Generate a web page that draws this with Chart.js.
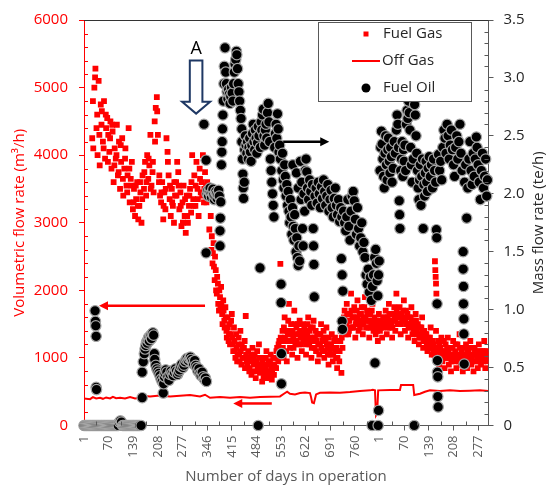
<!DOCTYPE html>
<html lang="en">
<head>
<meta charset="UTF-8">
<title>Fuel gas, off gas and fuel oil flow vs days in operation</title>
<script src="https://cdn.jsdelivr.net/npm/chart.js"></script>
<style>
  body { margin: 0; background: #fff; }
  #chart { display: block; }
</style>
</head>
<body>
<canvas id="chart" width="547" height="486"></canvas>
<script>
// x is a running day index over both campaigns; the second campaign restarts its count at 829
const xTickDays   = [1, 70, 139, 208, 277, 346, 415, 484, 553, 622, 691, 760, 829, 898, 967, 1036, 1105];
const xTickLabels = ['1', '70', '139', '208', '277', '346', '415', '484', '553', '622', '691', '760', '1', '70', '139', '208', '277'];

// Fuel Gas, m3/h (left axis) - [day, value]
const fuelGas = [
  [24,4250],[27,4100],[30,5000],[33,5280],[36,4400],[39,4000],[42,5100],[45,3850],
  [48,4750],[51,4650],[54,4200],[57,4800],[60,3950],[63,4400],[66,4550],[69,4300],[72,4050],
  [75,4500],[78,3800],[81,4350],[84,3600],[87,4100],[90,3950],[93,4450],[96,3700],[99,4200],[102,3500],
  [105,3900],[108,4250],[111,3400],[114,3800],[117,4100],[120,3550],[123,3700],[126,4400],[129,3300],[132,3650],[135,3900],[138,3200],
  [141,3500],[144,3100],[147,3350],[150,3600],[153,3050],[156,3250],[159,3450],[162,3000],[165,3700],
  [169,3500],[172,3900],[175,3400],[178,4000],[181,3650],[184,3850],[187,4300],[190,3550],[193,3750],[196,3450],[199,4500],[202,4700],[205,4860],[208,4300],[211,3600],[214,3400],
  [217,3300],[220,3600],[223,3050],[226,3450],[229,3200],[232,4250],[235,4050],[238,3700],[241,3350],[244,3100],[247,3500],[250,3250],[253,3000],[256,3400],
  [259,3600],[262,3900],[265,3750],[268,3200],[271,3450],[274,2950],[277,3300],[280,3550],[283,3100],[286,2850],[289,3400],[292,3000],[295,3250],[298,3500],[301,3150],[304,4000],[307,3350],
  [310,3700],[313,3250],[316,3900],[319,3500],[322,3100],[325,3800],[328,3450],[331,3600],[334,4000],[337,3300],[340,3750],[343,3550],
  [346,3600],[349,3400],[352,2900],[355,3500],[358,2600],
  [361,2400],[364,2700],[367,2150],[370,2300],[373,1950],
  [376,2100],[379,1700],[382,1900],[385,2050],[388,1650],[391,1850],[394,1550],
  [397,1750],[400,1400],[403,1600],[406,1250],[409,1500],[412,1350],[415,1650],[418,1200],[421,1450],
  [424,1100],[427,1350],[430,950],[433,1200],[436,1050],[439,1400],[442,900],[445,1150],[448,1000],[451,1250],[454,1620],[457,950],
  [461,1100],[464,800],[467,1000],[470,750],[473,1150],[476,900],[479,1050],[482,700],[485,950],[488,850],[491,1200],[494,780],
  [497,900],[500,650],[503,1000],[506,750],[509,850],[512,1100],[515,700],[518,950],[521,800],[524,1050],[527,680],[530,900],[533,750],[536,1000],[539,850],[542,1150],[545,950],[548,1250],[551,2390],
  [554,1100],[557,1400],[560,1000],[563,1600],[566,1250],[569,950],[572,1350],[575,1800],[578,1150],[581,1500],[584,1050],[587,1300],[590,1700],[593,1200],[596,1450],[599,1000],[602,1350],[605,1550],
  [608,1300],[611,1100],[614,1500],[617,1250],[620,1400],[623,1050],[626,1350],[629,1600],[632,1200],[635,1450],[638,1000],[641,1300],[644,1550],[647,1150],[650,1400],[653,1250],[656,950],[659,1350],[662,1200],[665,1500],[668,1100],[671,1300],[674,1000],[677,1250],[680,1450],[683,1150],[686,900],[689,1200],[692,1050],[695,1350],[698,950],[701,1150],[704,1300],[707,1000],[710,850],[713,1100],[716,950],[719,1250],[722,780],[725,1150],
  [728,1500],[731,1700],[734,1350],[737,1800],[740,1550],[743,1400],[746,1650],[749,1950],[752,1450],[755,1600],[758,1750],[761,1300],[764,1550],[767,1850],[770,1400],[773,1650],[776,1500],[779,1750],[782,1350],[785,1600],[788,1900],[791,1450],[794,1700],[797,1550],[800,1300],[803,1650],[806,1500],[809,1800],[812,1400],[815,1600],[818,1350],
  [821,1500],[824,1250],[827,1650],[830,1400],[833,1550],[836,1300],[839,1600],
  [843,1500],[846,1700],[849,1350],[852,1600],[855,1800],[858,1450],[861,1650],[864,1300],[867,1550],[870,1750],[873,1400],[876,1950],[879,1600],[882,1500],[885,1750],[888,1350],[891,1650],[894,1550],[897,1850],[900,1400],[903,1700],[906,1500],[909,1300],[912,1600],[915,1450],[918,1750],[921,1350],[924,1550],[927,1250],[930,1650],[933,1400],[936,1500],[939,1200],[942,1450],[945,1300],[948,1600],[951,1150],[954,1400],[957,1250],[960,1350],[963,1100],[966,1300],[969,1200],[972,1450],[975,1050],[978,1250],
  [981,1200],[984,2430],[985,2300],[986,2200],[987,2100],[988,1950],[987,1400],[990,1000],[993,1250],[996,900],[999,1150],[1002,1300],[1005,950],[1008,1100],[1011,850],[1014,1200],[1017,1000],[1020,1300],[1023,900],[1026,1150],[1029,800],[1032,1050],[1035,1250],[1038,950],[1041,1100],[1044,850],[1047,1200],[1050,1000],[1053,1350],[1056,900],[1059,1100],[1062,800],[1065,1050],[1068,950],[1071,1200],[1074,850],[1077,1100],[1080,1000],[1083,1250],[1086,900],[1089,1050],[1092,800],[1095,1150],[1098,950],[1101,1100],[1104,850],[1107,1200],[1110,1000],[1113,900],[1116,1100],[1119,950],[1122,1250],[1125,850],[1128,1050],[1131,950],
  // second reading per day band
  [26,4800],[32,5150],[38,4600],[44,4300],[50,4450],[56,4100],[62,4600],[68,3900],[74,4250],[80,4450],[86,3850],[92,4000],[98,3750],[104,4150],[110,3650],[116,3950],[122,3450],[128,3800],
  [134,3550],[140,3300],[146,3550],[152,3250],[158,3600],[164,3350],[170,3750],[176,3600],[182,3950],[188,3500],[194,3900],[200,4200],[206,4650],[212,3700],[218,3450],[224,3250],[230,3500],
  [236,3900],[242,3550],[248,3300],[254,3600],[260,3400],[266,3550],[272,3250],[278,3000],[284,3350],[290,3100],[296,3400],[302,3600],[308,3250],[314,3550],[320,3350],[326,3650],[332,3400],
  [338,3500],[344,3300],
  [356,3100],[359,2800],[362,2550],[365,2350],[368,2500],[371,2000],[374,2200],[377,1800],[380,2000],[383,1750],[386,1800],[389,1500],[392,1700],[395,1450],[398,1600],[401,1300],[404,1450],
  [407,1350],[410,1200],[413,1550],[416,1300],[419,1100],[422,1250],[425,1000],[428,1150],[431,1050],[434,1300],[437,950],[440,1100],[443,1200],[446,1000],[449,1150],[452,850],[455,1050],
  [458,900],[462,1000],[465,850],[468,950],[471,1050],[474,800],[477,1000],[480,950],[483,800],[486,1100],[489,900],[492,1000],[495,850],[498,800],[501,950],[504,700],[507,900],[510,1000],
  [513,800],[516,900],[519,750],[522,950],[525,850],[528,800],[531,1000],[534,900],[537,850],[540,1100],[543,1000],[546,1200],[549,1050],[552,1300],[555,1250],[558,1150],[561,1450],[564,1300],
  [567,1100],[570,1400],[573,1550],[576,1250],[579,1350],[582,1250],[585,1400],[588,1150],[591,1500],[594,1350],[597,1250],[600,1500],[603,1200],[606,1400],[609,1200],[612,1350],[615,1250],
  [618,1450],[621,1300],[624,1200],[627,1500],[630,1250],[633,1400],[636,1300],[639,1150],[642,1450],[645,1250],[648,1300],[651,1100],[654,1350],[657,1200],[660,1050],[663,1350],[666,1150],
  [669,1250],[672,1400],[675,1100],[678,1300],[681,1200],[684,1050],[687,1300],[690,1100],[693,1200],[696,1150],[699,1050],[702,1250],[705,1100],[708,1150],[711,1000],[714,1250],[717,1100],
  [720,1400],[723,1300],[726,1400],[729,1600],[732,1550],[735,1500],[738,1650],[741,1350],[744,1550],[747,1450],[750,1700],[753,1600],[756,1450],[759,1600],[762,1500],[765,1700],[768,1600],
  [771,1550],[774,1450],[777,1650],[780,1550],[783,1500],[786,1750],[789,1600],[792,1550],[795,1650],[798,1450],[801,1550],[804,1450],[807,1700],[810,1550],[813,1500],[816,1450],[819,1550],
  [822,1400],[825,1500],[828,1450],[831,1550],[834,1450],[837,1500],[840,1450],[844,1600],[847,1550],[850,1500],[853,1450],[856,1650],[859,1550],[862,1500],[865,1450],[868,1650],[871,1600],
  [874,1550],[877,1700],[880,1500],[883,1650],[886,1600],[889,1500],[892,1550],[895,1700],[898,1600],[901,1550],[904,1500],[907,1650],[910,1450],[913,1500],[916,1600],[919,1550],[922,1500],
  [925,1400],[928,1450],[931,1550],[934,1350],[937,1450],[940,1300],[943,1350],[946,1450],[949,1400],[952,1250],[955,1300],[958,1350],[961,1200],[964,1250],[967,1150],[970,1300],[973,1250],
  [976,1150],[979,1100],[982,1050],[985,1150],[988,1100],[991,1150],[994,1050],[997,1200],[1000,1000],[1003,1100],[1006,1050],[1009,1250],[1012,1000],[1015,1050],[1018,1150],[1021,1100],
  [1024,1000],[1027,1050],[1030,950],[1033,1150],[1036,1050],[1039,1000],[1042,1200],[1045,1000],[1048,1050],[1051,950],[1054,1150],[1057,1050],[1060,1000],[1063,950],[1066,1150],[1069,1050],
  [1072,1000],[1075,1100],[1078,950],[1081,1150],[1084,1050],[1087,1000],[1090,950],[1093,1050],[1096,1100],[1099,1050],[1102,1000],[1105,1050],[1108,950],[1111,1100],[1114,1000],[1117,1050],
  [1120,1000],[1123,1100],[1126,1000],[1129,1100]
];

// Off Gas, m3/h (left axis) - [day, value]
const offGas = [
  [1,400],[18,390],[26,420],[35,400],[46,410],[54,395],[63,415],[74,400],[82,425],[91,405],[102,410],[116,400],[130,420],[144,400],[158,410],
  [166,440],[186,430],[214,445],[242,430],[270,440],[298,450],[326,430],[340,455],[354,410],[382,420],[410,410],[438,420],[466,410],[494,420],
  [522,425],[550,430],[561,470],[570,500],[578,470],[592,460],[606,480],[620,490],[634,480],[637,420],[640,340],[645,330],[651,460],[662,485],
  [690,490],[718,485],[746,495],[774,510],[802,520],[810,530],[816,520],[819,150],[822,180],[825,520],[858,525],[886,525],[889,600],[923,600],
  [926,450],[942,470],[956,500],[970,520],[998,510],[1026,520],[1054,510],[1082,515],[1110,520],[1133,510]
];

// Fuel Oil, te/h (right axis) - [day, value]
const fuelOil = [
  [1,0],[4,0],[7,0],[10,0],[13,0],[16,0],[19,0],[22,0],[25,0],[28,0],[31,0],
  [32,0.99],[33,0.90],[34,0.86],[35,0.77],[35,0.33],[36,0.31],
  [34,0],[37,0],[40,0],[43,0],[46,0],[49,0],[52,0],[55,0],[58,0],[61,0],[64,0],[67,0],[70,0],[73,0],[76,0],[79,0],[82,0],[85,0],[88,0],[91,0],[94,0],[97,0],
  [100,0.03],[103,0.04],[106,0.03],[109,0],[112,0],[115,0],[118,0],[121,0],[124,0],[127,0],[130,0],[133,0],[136,0],[139,0],[142,0],[145,0],[148,0],[151,0],[154,0],[157,0],[161,0],
  [164,0.46],[164,0.24],[167,0.55],[170,0.62],[172,0.66],[174,0.69],[176,0.72],[178,0.71],[180,0.74],[182,0.76],[184,0.73],[186,0.77],[188,0.78],[190,0.75],[192,0.79],[194,0.80],[196,0.78],
  [198,0.62],[199,0.57],[202,0.52],[205,0.49],[208,0.47],[211,0.45],[214,0.43],[217,0.40],[220,0.38],[223,0.28],[224,0.36],[226,0.42],[228,0.45],[230,0.48],[233,0.46],[236,0.42],[239,0.39],
  [242,0.44],[245,0.47],[248,0.45],[251,0.43],[254,0.46],[257,0.49],[260,0.47],[263,0.44],[266,0.46],[269,0.48],[272,0.51],[275,0.53],[278,0.50],[281,0.52],[284,0.55],[287,0.57],[290,0.58],
  [293,0.56],[296,0.58],[299,0.59],[302,0.57],[305,0.55],[308,0.53],[311,0.56],[314,0.52],[317,0.50],[320,0.47],[323,0.49],[326,0.45],[329,0.43],[332,0.46],[335,0.42],[338,0.40],[341,0.41],[344,0.38],
  [337,2.60],[343,2.29],[343,1.49],
  [346,2.00],[348,2.03],[350,1.98],[352,2.02],[354,2.05],[356,2.00],[358,1.97],[360,2.01],[362,2.04],[364,1.99],[366,1.95],[368,1.98],[370,2.02],[372,2.00],[374,1.96],[376,1.99],[378,2.03],[380,1.98],
  [382,1.55],[382,1.68],[383,1.79],[384,1.93],[386,2.25],[387,2.36],[388,2.45],[389,2.56],[390,2.68],[391,2.80],[393,2.95],[394,3.10],[396,3.26],[398,3.05],[400,2.95],[402,2.88],[404,2.82],
  [406,2.90],[408,2.86],[410,2.78],[412,2.84],[414,2.92],[416,2.87],[418,2.80],[420,2.95],[422,3.05],[424,3.12],[426,3.16],[428,3.23],[429,3.20],[431,3.08],[433,2.95],[435,2.88],[437,2.80],
  [439,2.72],[441,2.65],[443,2.56],
  [443,2.45],[445,2.30],[446,2.17],[447,2.05],[448,1.96],[450,2.10],[451,2.38],[453,2.50],[455,2.42],[457,2.35],[459,2.45],[461,2.30],[463,2.40],[465,2.48],[467,2.36],[469,2.28],[471,2.42],
  [473,2.52],[475,2.60],[477,2.45],[479,2.38],[481,2.55],[483,2.48],[485,2.35],[487,2.44],[489,2.58],[489,0],[491,2.50],[494,1.36],[495,2.40],[497,2.62],[499,2.55],[501,2.68],[503,2.73],
  [505,2.50],[507,2.42],[509,2.55],[511,2.60],[513,2.48],[515,2.70],[517,2.78],[519,2.62],[521,2.45],[523,2.30],[525,2.20],[527,2.10],[529,2.00],[531,1.90],[533,1.80],[535,2.40],[537,2.52],
  [539,2.60],[541,2.48],[543,2.69],[545,2.56],[547,2.36],[549,2.42],[551,2.30],[553,1.22],[553,1.06],[554,0.62],[554,0.36],[555,2.20],[557,2.35],[559,2.12],[561,2.05],[563,2.25],[565,2.15],
  [567,1.98],[569,2.08],[571,1.90],[573,2.02],[575,1.85],[577,1.75],[579,1.95],[581,1.80],[583,1.65],[585,1.88],[586,2.25],[587,1.72],[589,1.60],[591,1.82],[593,1.70],[595,1.50],[596,2.18],
  [597,1.62],[599,1.45],[601,1.38],[601,2.05],[603,1.55],[605,1.42],[607,2.28],
  [609,1.95],[611,2.10],[613,1.70],[615,1.55],[617,2.00],[619,1.85],[621,2.20],[623,2.30],[625,2.19],[627,2.05],[630,1.95],[633,2.12],[636,2.02],[639,1.90],[641,2.08],[643,1.70],[644,1.55],
  [645,1.39],[646,1.11],[648,1.98],[651,2.05],[654,1.92],[657,2.10],[660,2.00],[663,1.88],[666,2.06],[669,1.96],[672,2.12],[675,2.02],[678,1.90],[681,1.98],[684,2.08],[687,1.85],[690,1.95],
  [693,2.03],[696,1.88],[699,1.80],[702,1.96],[705,2.05],[708,1.90],[711,1.82],[714,1.95],[717,1.76],[720,1.88],[722,1.44],[723,1.80],[724,1.30],[724,0.90],[725,0.83],[726,1.16],[728,1.85],
  [731,1.75],[734,1.68],[737,1.80],[740,1.95],[743,1.72],[746,1.60],[749,1.85],[752,1.98],[755,2.02],[758,1.94],[761,1.78],[764,1.65],[767,1.88],[770,1.70],[773,1.55],[776,1.62],[779,1.75],
  [782,1.50],[785,1.58],[788,1.45],[791,1.30],[794,1.22],[797,1.35],[800,1.15],[803,1.28],[806,1.08],[808,0],[809,1.20],[812,1.30],[815,1.45],[816,0.54],[818,1.52],[820,1.40],[822,1.25],
  [824,1.12],[825,0],[826,0.13],[826,1.30],[828,1.42],
  [830,2.20],[832,2.40],[834,2.54],[836,2.43],[838,2.30],[840,2.15],[842,2.05],[844,2.35],[846,2.50],[848,2.25],[850,2.12],[852,2.38],[854,2.48],[856,2.28],[858,2.18],[860,2.40],[862,2.32],
  [864,2.10],[867,2.22],[870,2.45],[873,2.35],[876,2.55],[878,2.68],[880,2.60],[882,2.40],[884,1.94],[885,1.82],[886,1.70],[888,2.20],[890,2.30],[892,2.45],[894,2.15],[896,2.38],[898,2.28],
  [900,2.42],[902,2.20],[904,2.60],[906,2.72],[908,2.65],[910,2.80],[912,2.70],[914,2.55],[916,2.40],[918,2.25],[920,2.10],[923,2.30],[926,0],[927,2.77],[929,2.68],[931,2.50],[933,2.35],
  [935,2.20],[937,2.05],[939,1.95],[941,2.12],[943,2.25],[945,1.90],[947,2.15],[949,2.30],[951,1.70],[953,2.08],[955,1.98],[957,2.18],[959,2.28],[961,2.10],[963,2.02],[965,2.22],[968,2.32],
  [971,2.15],[974,2.25],[977,2.05],[980,2.30],[983,2.20],[986,2.10],[988,1.69],[989,1.62],[990,1.05],[991,0.56],[991,0.46],[992,0.42],[992,0.25],[993,0.16],[994,2.34],[997,2.20],[1000,2.28],
  [1003,2.12],[1006,2.40],[1009,2.55],[1012,2.48],[1015,2.35],[1018,2.60],[1021,2.50],[1024,2.30],[1027,2.42],[1030,2.55],[1033,2.38],[1036,2.25],[1039,2.15],[1042,2.40],[1045,2.50],[1048,2.30],
  [1051,2.45],[1054,2.60],[1057,2.35],[1060,2.20],[1063,1.50],[1063,1.35],[1064,1.20],[1064,1.05],[1065,0.92],[1065,0.79],[1066,0.53],[1067,2.10],[1070,2.25],[1073,1.79],[1076,2.05],[1079,2.30],
  [1082,2.45],[1085,2.20],[1088,2.08],[1091,2.35],[1094,2.15],[1097,2.30],[1100,2.49],[1102,2.40],[1105,2.25],[1108,2.10],[1111,1.95],[1114,2.20],[1117,2.35],[1120,2.05],[1123,2.15],[1126,2.30],
  [1129,1.98],[1131,2.12]
];

// annotation anchors in data units
const markA      = { day: 315, top: 5400, base: 4790, tip: 4615, label: 5580 };  // hollow arrow "A"
const redArrows  = [[340, 43, 1772], [527, 419, 326]];                          // [fromDay, toDay, m3/h]
const blackArrow = [559, 688, 2.45];                                             // [fromDay, toDay, te/h]

const toPoints = arr => arr.map(p => ({ x: p[0], y: p[1] }));

Chart.defaults.font.family = "'Open Sans', sans-serif";

const RED = '#ff0000';
const GREY = '#595959';
const INK = '#262626';

function arrowH(ctx, x1, x2, y, color) {
  const dir = Math.sign(x2 - x1);
  ctx.strokeStyle = color;
  ctx.fillStyle = color;
  ctx.lineWidth = 2.5;
  ctx.beginPath();
  ctx.moveTo(x1, y);
  ctx.lineTo(x2 - dir * 7, y);
  ctx.stroke();
  ctx.beginPath();
  ctx.moveTo(x2, y);
  ctx.lineTo(x2 - dir * 9, y - 4.5);
  ctx.lineTo(x2 - dir * 9, y + 4.5);
  ctx.closePath();
  ctx.fill();
}

const decorations = {
  id: 'decorations',
  afterDatasetsDraw(chart) {
    const { ctx, scales: { x, y, y2 } } = chart;
    ctx.save();
    redArrows.forEach(a => arrowH(ctx, x.getPixelForValue(a[0]), x.getPixelForValue(a[1]), y.getPixelForValue(a[2]), RED));
    arrowH(ctx, x.getPixelForValue(blackArrow[0]), x.getPixelForValue(blackArrow[1]), y2.getPixelForValue(blackArrow[2]), '#000');

    // hollow arrow "A"
    const cx = x.getPixelForValue(markA.day);
    const yt = y.getPixelForValue(markA.top), yb = y.getPixelForValue(markA.base), yp = y.getPixelForValue(markA.tip);
    ctx.beginPath();
    ctx.moveTo(cx - 6.3, yt);
    ctx.lineTo(cx + 6.3, yt);
    ctx.lineTo(cx + 6.3, yb);
    ctx.lineTo(cx + 14, yb);
    ctx.lineTo(cx, yp);
    ctx.lineTo(cx - 14, yb);
    ctx.lineTo(cx - 6.3, yb);
    ctx.closePath();
    ctx.fillStyle = '#fff';
    ctx.fill();
    ctx.strokeStyle = '#1f3864';
    ctx.lineWidth = 2;
    ctx.stroke();
    ctx.fillStyle = '#000';
    ctx.font = "18px 'Open Sans'";
    ctx.textAlign = 'center';
    ctx.textBaseline = 'alphabetic';
    ctx.fillText('A', cx, y.getPixelForValue(markA.label) + 6);
    ctx.restore();
  },
  afterDraw(chart) {
    const { ctx, chartArea: a, scales: { x, y, y2 } } = chart;
    ctx.save();

    // top frame line
    ctx.strokeStyle = '#333';
    ctx.lineWidth = 1;
    ctx.beginPath();
    ctx.moveTo(a.left, a.top + 0.5);
    ctx.lineTo(a.right, a.top + 0.5);
    ctx.stroke();

    // minor ticks, inside the plot
    ctx.strokeStyle = RED;
    ctx.beginPath();
    for (let v = 200; v < 6000; v += 200) {
      if (v % 1000 === 0) continue;
      const py = Math.round(y.getPixelForValue(v)) + 0.5;
      ctx.moveTo(a.left, py); ctx.lineTo(a.left + 4, py);
    }
    ctx.stroke();
    ctx.strokeStyle = GREY;
    ctx.beginPath();
    for (let i = 1; i < 35; i++) {
      if (i % 5 === 0) continue;
      const py = Math.round(y2.getPixelForValue(i / 10)) + 0.5;
      ctx.moveTo(a.right, py); ctx.lineTo(a.right - 4, py);
    }
    for (let i = 0; i < xTickDays.length; i++) {
      const px = Math.round(x.getPixelForValue(xTickDays[i] + 34.5)) + 0.5;
      if (px > a.right) break;
      ctx.moveTo(px, a.bottom); ctx.lineTo(px, a.bottom - 4);
    }
    ctx.stroke();

    // axis titles
    ctx.font = "15px 'Open Sans'";
    ctx.textAlign = 'center';
    ctx.textBaseline = 'middle';
    const cy = (a.top + a.bottom) / 2;
    ctx.fillStyle = RED;
    ctx.save(); ctx.translate(20, cy); ctx.rotate(-Math.PI / 2);
    ctx.fillText('Volumetric flow rate (m\u00b3/h)', 0, 0); ctx.restore();
    ctx.fillStyle = INK;
    ctx.save(); ctx.translate(539, cy); ctx.rotate(-Math.PI / 2);
    ctx.fillText('Mass flow rate (te/h)', 0, 0); ctx.restore();
    ctx.fillStyle = GREY;
    ctx.textBaseline = 'alphabetic';
    ctx.fillText('Number of days in operation', 286, 481);

    // legend
    ctx.fillStyle = '#fff';
    ctx.fillRect(318.5, 22.5, 153, 79);
    ctx.strokeStyle = GREY;
    ctx.lineWidth = 1;
    ctx.strokeRect(318.5, 22.5, 153, 79);
    ctx.fillStyle = RED;
    ctx.fillRect(363.5, 31.5, 5, 5);
    ctx.strokeStyle = RED;
    ctx.lineWidth = 2;
    ctx.beginPath(); ctx.moveTo(352, 61); ctx.lineTo(380, 61); ctx.stroke();
    ctx.beginPath(); ctx.arc(366, 88, 4.5, 0, Math.PI * 2);
    ctx.fillStyle = '#000'; ctx.fill();
    ctx.fillStyle = INK;
    ctx.textAlign = 'left';
    ctx.textBaseline = 'middle';
    ctx.fillText('Fuel Gas', 383, 34);
    ctx.fillText('Off Gas', 382, 61);
    ctx.fillText('Fuel Oil', 383, 88);
    ctx.restore();
  }
};

new Chart(document.getElementById('chart'), {
  type: 'scatter',
  data: {
    datasets: [
      {
        label: 'Fuel Oil', data: toPoints(fuelOil), yAxisID: 'y2', order: 1, clip: false,
        pointRadius: 5.2, pointBackgroundColor: '#000', pointBorderColor: '#a6a6a6', pointBorderWidth: 1.2
      },
      {
        label: 'Off Gas', data: toPoints(offGas), yAxisID: 'y', order: 2, showLine: true,
        borderColor: RED, borderWidth: 2, pointRadius: 0, tension: 0
      },
      {
        label: 'Fuel Gas', data: toPoints(fuelGas), yAxisID: 'y', order: 3,
        pointStyle: 'rect', pointRadius: 4.1, pointBackgroundColor: RED, pointBorderWidth: 0
      }
    ]
  },
  options: {
    responsive: false,
    animation: false,
    events: [],
    devicePixelRatio: 1,
    layout: { padding: { top: 17, left: 0, right: 0, bottom: 0 } },
    plugins: { legend: { display: false }, tooltip: { enabled: false } },
    scales: {
      x: {
        type: 'linear', min: 1, max: 1134,
        afterBuildTicks: s => { s.ticks = xTickDays.map(v => ({ value: v })); },
        afterFit: s => { s.height = 60.5; },
        ticks: {
          autoSkip: false, minRotation: 90, maxRotation: 90, padding: 5,
          color: GREY, font: { size: 13 },
          callback: v => { const i = xTickDays.indexOf(v); return i >= 0 ? xTickLabels[i] : ''; }
        },
        grid: { drawOnChartArea: false, tickLength: 5, color: GREY },
        border: { color: GREY }
      },
      y: {
        position: 'left', min: 0, max: 6000,
        afterFit: s => { s.width = 84; },
        ticks: { stepSize: 1000, padding: 11, color: RED, font: { size: 15 }, callback: v => String(v) },
        grid: { drawOnChartArea: false, tickLength: 5, color: RED },
        border: { color: RED }
      },
      y2: {
        position: 'right', min: 0, max: 3.5,
        afterFit: s => { s.width = 58.5; },
        ticks: { stepSize: 0.5, padding: 10, color: INK, font: { size: 15 } },
        grid: { drawOnChartArea: false, tickLength: 5, color: GREY },
        border: { color: GREY }
      }
    }
  },
  plugins: [decorations]
});
</script>
</body>
</html>
